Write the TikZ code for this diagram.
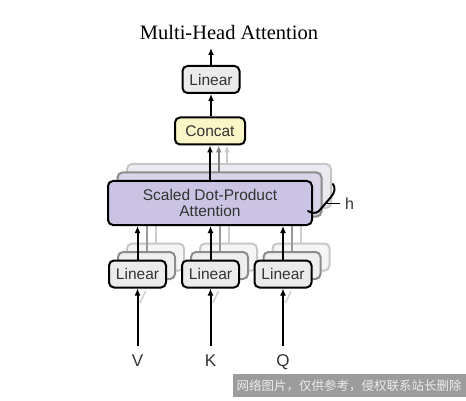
\documentclass[tikz,border=0pt]{standalone}
\usepackage{fontspec}
\setmainfont{Liberation Serif}
\setsansfont{Liberation Sans}
\newfontfamily\cjkfont{Noto Sans CJK SC}
\usetikzlibrary{arrows.meta}
\definecolor{linfill}{HTML}{E9ECE9}
\definecolor{catfill}{HTML}{FAF6C8}
\definecolor{attfill}{HTML}{CBC3E3}
\definecolor{attfillb}{HTML}{D9D4E8}
\definecolor{attfillc}{HTML}{ECEAF1}
\definecolor{txt}{HTML}{333333}
\definecolor{wmgray}{HTML}{9C9C9C}
\tikzset{
  box/.style={draw=black, line width=2pt, rounded corners=5pt, text=txt,
    font=\sffamily\fontsize{15.5}{17}\selectfont, align=center, inner sep=0pt},
  linbox/.style={box, fill=linfill, minimum width=57pt, minimum height=27pt},
  linshadowa/.style={linbox, draw=black!45, fill=linfill!80},
  linshadowb/.style={linbox, draw=black!22, fill=linfill!50},
  attbox/.style={box, fill=attfill, minimum width=204pt, minimum height=44pt},
  attshadowa/.style={attbox, draw=black!45, fill=attfillb},
  attshadowb/.style={attbox, draw=black!22, fill=attfillc},
  arr/.style={line width=2pt, -{Latex[length=7pt,width=6pt]}},
  grayline/.style={line width=2pt, draw=black!40},
  lightline/.style={line width=2pt, draw=black!20},
  lbl/.style={text=txt, font=\sffamily\fontsize{17}{19}\selectfont, inner sep=0pt}
}
\begin{document}
\begin{tikzpicture}[x=1pt, y=-1pt]
\fill[white] (0,0) rectangle (466,401);
\useasboundingbox (0,0) rectangle (466,401);

% title
\node[font=\fontsize{20.5}{24}\selectfont, anchor=base, inner sep=0pt] (title) at (229,40) {Multi-Head Attention};

% top linear and concat
\node[linbox] (toplin) at (211,79.5) {Linear};
\coordinate (out) at (211,48);
\node[box, fill=catfill, minimum width=70pt, minimum height=27pt] (concat) at (210,131) {Concat};

% bottom linear shadows
\foreach \n/\x in {v/137.5, k/210.5, q/283} {
  \node[linshadowb] (\n b) at (\x+18,257) {};
  \node[linshadowa] (\n a) at (\x+9,265.5) {};
}
% gray lines from shadow linears up
\foreach \n in {v,k,q} {
  \draw[lightline] (\n b.north) -- ++(0,-40);
  \draw[grayline] (\n a.north) -- ++(0,-40);
}
% main bottom linears
\node[linbox] (vlin) at (137.5,274) {Linear};
\node[linbox] (klin) at (210.5,274) {Linear};
\node[linbox] (qlin) at (283,274) {Linear};

% attention shadows
\node[attshadowb] (attc) at (229,186) {};
\node[attshadowa] (attb) at (219.5,194.5) {};
\node[attbox] (att) at (210,203) {Scaled Dot-Product\\[-1pt]Attention};

% arrows up to attention
\foreach \n in {vlin,klin,qlin} {
  \draw[arr] (\n.north) -- (\n.north |- att.south);
}

% arrows to concat
\draw[arr, draw=black!20] (227,163) -- (227,145.5);
\draw[arr, draw=black!50] (218.7,172) -- (218.7,145.5);
\draw[arr] (att.north -| concat.south) -- (concat.south);
\draw[arr] (concat.north -| toplin.south) -- (toplin.south);
\draw[arr] (toplin.north) -- (out);

% inputs
\foreach \n/\x/\t in {vlin/137.5/V, klin/210.5/K, qlin/283/Q} {
  \node[lbl, anchor=base] (\t lab) at (\x,366) {\t};
  \coordinate (\t in) at (\x,346);
  \draw[line width=1.5pt, draw=black!18] (\x+2.5,303) -- (\x+8,291);
  \draw[arr] (\t in) -- (\n.south);
}

% h bracket
\draw[line width=2pt, line cap=round] (333,184) .. controls (335.5,188) and (335,192) .. (331,197)
  -- (319,211) .. controls (316,214) and (311,213) .. (308,211);
\coordinate (tick) at (340,203);
\draw[line width=1pt] (327,203) -- (tick);
\node[lbl, anchor=west, font=\sffamily\fontsize{16}{18}\selectfont] (hlab) at (345,204) {h};

% watermark
\fill[wmgray] (233,374) rectangle (466,397);
\node[text=white!92!black, font=\cjkfont\fontsize{12.5}{14}\selectfont, inner sep=0pt] (wm) at (349,385.5) {网络图片，仅供参考，侵权联系站长删除};
\end{tikzpicture}
\end{document}
